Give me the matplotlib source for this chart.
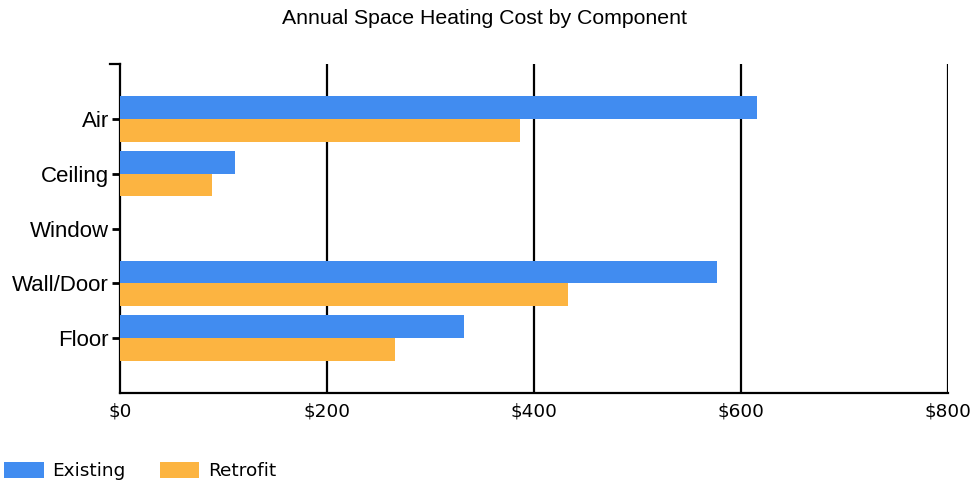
import matplotlib
matplotlib.use("Agg")
import matplotlib.pyplot as plt
import numpy as np

categories = ["Air", "Ceiling", "Window", "Wall/Door", "Floor"]
existing = [615, 111, 0, 577, 332]
retrofit = [386, 89, 0, 433, 266]
xticks = [0, 200, 400, 600, 800]
xticklabels = ["$0", "$200", "$400", "$600", "$800"]
series_names = ["Existing", "Retrofit"]
colors = ["#418CF0", "#FCB441"]

W, H = 976, 483
fig = plt.figure(figsize=(W/100, H/100), dpi=100)
ax = fig.add_axes([120/W, (H-393)/H, 828/W, 329/H])

y = np.arange(len(categories))
bh = 0.415
ax.barh(y - bh/2, existing, height=bh, color=colors[0], label=series_names[0], zorder=3)
ax.barh(y + bh/2, retrofit, height=bh, color=colors[1], label=series_names[1], zorder=3)

ax.set_xlim(0, 800)
ax.set_ylim(len(categories), -1)
ax.set_yticks(y)
ax.set_yticklabels(categories, family="Liberation Sans", fontsize=16)
ax.set_xticks(xticks)
ax.set_xticklabels(xticklabels, family="DejaVu Sans", fontsize=13.3)
for x in xticks[1:]:
    ax.axvline(x, color="black", lw=1.6, zorder=2)

for s in ["top", "right"]:
    ax.spines[s].set_visible(False)
ax.spines["left"].set_linewidth(1.6)
ax.spines["bottom"].set_linewidth(1.6)
ax.tick_params(axis="y", length=6, width=2, pad=2)
ax.tick_params(axis="x", length=0, pad=7)
# outer tick at top of y axis
ax.plot([-10/1.035, 0], [-1, -1], color="black", lw=1.6, clip_on=False, zorder=4)

fig.text(485/W, 1 - 18/H, "Annual Space Heating Cost by Component",
         ha="center", va="center", family="Liberation Sans", fontsize=15.3)

leg = fig.legend(loc="lower left", bbox_to_anchor=(0.5/W, -1/H), ncol=2, frameon=False,
                 prop={"family": "DejaVu Sans", "size": 13.3},
                 handlelength=2.15, handleheight=0.95, handletextpad=0.45,
                 columnspacing=1.85, borderpad=0.2, borderaxespad=0)

fig.savefig("out.png", dpi=100)
